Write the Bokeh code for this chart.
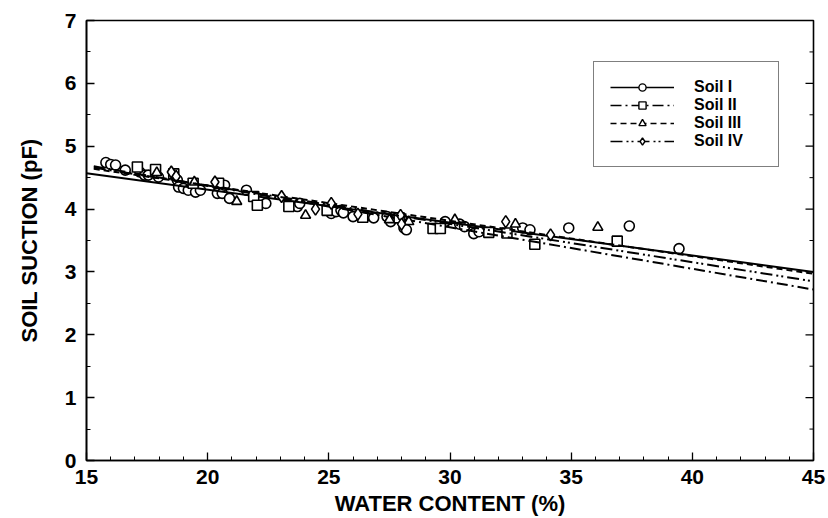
import math
from bokeh.plotting import figure
from bokeh.models import Range1d, Legend, LegendItem, SingleIntervalTicker
from bokeh.embed import file_html
from bokeh.resources import INLINE

# ---- data ----
soil1_x = [15.8, 16.0, 16.2, 16.6, 17.2, 17.4, 17.55, 17.97, 18.75, 18.8, 19.0, 19.2, 19.5, 19.7,
           20.4, 20.6, 20.7, 20.9, 21.6, 22.4, 23.7, 23.8, 25.1, 25.3, 25.5, 25.6, 26.0, 26.5,
           26.85, 27.4, 27.55, 28.0, 28.1, 28.2, 29.8, 30.4, 30.6, 30.98, 31.2, 33.0, 33.3,
           34.9, 37.4, 39.45]
soil1_y = [4.74, 4.71, 4.70, 4.62, 4.59, 4.54, 4.54, 4.51, 4.46, 4.35, 4.33, 4.30, 4.27, 4.30,
           4.25, 4.25, 4.38, 4.17, 4.30, 4.09, 4.04, 4.09, 3.93, 3.96, 3.98, 3.94, 3.88, 3.88,
           3.86, 3.88, 3.80, 3.86, 3.70, 3.67, 3.80, 3.76, 3.72, 3.61, 3.64, 3.70, 3.67,
           3.70, 3.73, 3.37]

soil2_x = [17.1, 17.85, 18.6, 19.4, 20.45, 21.9, 22.05, 23.35, 24.93, 26.4, 27.9, 29.3, 29.6,
           31.6, 32.35, 33.5, 36.9]
soil2_y = [4.67, 4.63, 4.56, 4.41, 4.41, 4.20, 4.06, 4.04, 3.98, 3.87, 3.86, 3.69, 3.69,
           3.63, 3.62, 3.44, 3.49]

soil3_x = [17.9, 19.45, 21.2, 24.04, 27.5, 28.3, 30.2, 32.7, 36.1]
soil3_y = [4.58, 4.43, 4.12, 3.90, 3.83, 3.80, 3.83, 3.76, 3.71]

soil4_x = [18.5, 18.7, 20.3, 23.05, 24.45, 25.1, 26.2, 27.96, 28.0, 32.3, 34.15]
soil4_y = [4.59, 4.52, 4.43, 4.20, 4.00, 4.09, 3.92, 3.90, 3.76, 3.80, 3.59]

fit1_x, fit1_y = [15.0, 45.0], [4.57, 3.00]
fit2_x, fit2_y = [15.3, 45.0], [4.68, 2.72]
fit3_x, fit3_y = [15.3, 45.0], [4.64, 2.97]
fit4_x, fit4_y = [15.3, 45.0], [4.66, 2.85]

labels = ["Soil I", "Soil II", "Soil III", "Soil IV"]
x_title = "WATER CONTENT (%)"
y_title = "SOIL SUCTION (pF)"
x_lo, x_hi = 15, 45
y_lo, y_hi = 0, 7
y_major = [1, 2, 3, 4, 5, 6]
y_minor = [0.5, 1.5, 2.5, 3.5, 4.5, 5.5, 6.5]

FONT = "Liberation Sans"

p = figure(width=828, height=518, output_backend="svg", toolbar_location=None,
           x_range=Range1d(x_lo, x_hi), y_range=Range1d(y_lo, y_hi),
           min_border_left=86, min_border_right=15, min_border_top=20, min_border_bottom=57)
p.background_fill_color = "white"
p.border_fill_color = "white"
p.outline_line_color = "black"
p.outline_line_width = 1.6
p.xgrid.visible = False
p.ygrid.visible = False

for ax in (p.xaxis[0], p.yaxis[0]):
    ax.axis_line_width = 1.6
    ax.major_tick_in = 8
    ax.major_tick_out = 0
    ax.minor_tick_in = 4
    ax.minor_tick_out = 0
    ax.major_tick_line_width = 1.3
    ax.minor_tick_line_width = 1.0
    ax.major_label_text_font = FONT
    ax.major_label_text_font_style = "bold"
    ax.major_label_text_font_size = "21px"
    ax.major_label_text_color = "black"
    ax.axis_label_text_font = FONT
    ax.axis_label_text_font_style = "bold"
    ax.axis_label_text_font_size = "22px"
    ax.axis_label_text_color = "black"

p.xaxis[0].ticker = SingleIntervalTicker(interval=5, num_minor_ticks=5)
p.yaxis[0].ticker = SingleIntervalTicker(interval=1, num_minor_ticks=2)
p.xaxis[0].axis_label = x_title
p.yaxis[0].axis_label = y_title
p.xaxis[0].major_label_standoff = 9
p.xaxis[0].axis_label_standoff = 4
p.yaxis[0].major_label_standoff = 10
p.yaxis[0].axis_label_standoff = 20

# tick marks on the right frame edge (inward)
p.ray(x=[x_hi] * len(y_major), y=y_major, length=8, angle=math.pi,
      length_units="screen", line_color="black", line_width=1.3)
p.ray(x=[x_hi] * len(y_minor), y=y_minor, length=4, angle=math.pi,
      length_units="screen", line_color="black", line_width=1.0)

fits = [(fit1_x, fit1_y, "solid"), (fit2_x, fit2_y, "11 4 2 4"),
        (fit3_x, fit3_y, "6 4"), (fit4_x, fit4_y, "12 4 2 3 2 4")]
pts = [(soil1_x, soil1_y, "circle"), (soil2_x, soil2_y, "square"),
       (soil3_x, soil3_y, "triangle"), (soil4_x, soil4_y, "diamond")]

nan = float("nan")
items = []
for (fx, fy, dash), (sx, sy, mk), lab in zip(fits, pts, labels):
    p.scatter(sx, sy, marker=mk, size=10 if mk != "diamond" else 12,
              fill_color="white", line_color="black", line_width=1.6)
    p.line(fx, fy, line_color="black", line_width=2.0, line_dash=dash)
    # legend proxies (no visible data)
    lleg = p.line([nan, nan], [nan, nan], line_color="black", line_width=1.3, line_dash=dash)
    sleg = p.scatter([nan], [nan], marker=mk, size=8 if mk != "diamond" else 10,
                     fill_color="white", line_color="black", line_width=1.4)
    items.append(LegendItem(label=lab, renderers=[lleg, sleg]))

legend = Legend(items=items, location=(507, 293), orientation="vertical",
                border_line_color="black", border_line_width=1.5,
                background_fill_color="white", background_fill_alpha=1,
                label_text_font=FONT, label_text_font_style="bold",
                label_text_font_size="16px", label_text_color="black",
                glyph_width=64, glyph_height=18, label_height=18, label_width=68,
                label_standoff=20, spacing=0, padding=16, margin=0)
p.add_layout(legend, "center")

open("out.html", "w").write(file_html(p, INLINE))
